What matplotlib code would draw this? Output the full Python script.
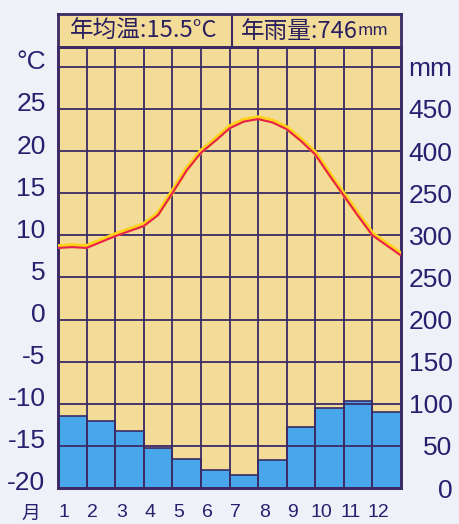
import numpy as np
import matplotlib
matplotlib.use('Agg')
import matplotlib.pyplot as plt
from matplotlib.transforms import ScaledTranslation

# monthly data
months = ['1', '2', '3', '4', '5', '6', '7', '8', '9', '10', '11', '12']
precip = [86, 80, 68, 48, 35, 21, 15, 33, 73, 95, 103, 90]          # mm
temp_mid = [8.6, 9.2, 10.5, 12.4, 17.7, 21.2, 23.5, 23.4, 21.2, 17.1, 12.3, 8.8]
# temperature where the curve crosses the month borders
temp_edge = [8.5, 8.5, 9.9, 11.1, 15.0, 19.8, 22.7, 23.8, 22.6, 19.6, 14.7, 10.0, 7.6]

temp_ticks = [-20, -15, -10, -5, 0, 5, 10, 15, 20, 25, 30]
temp_labels = ['-20', '-15', '-10', '-5', '0', '5', '10', '15', '20', '25', '\u00b0C']
rain_ticks = [0, 50, 100, 150, 200, 250, 300, 350, 400, 450, 500]
rain_labels = ['0', '50', '100', '150', '200', '250', '300', '250', '400', '450', 'mm']

title_left = '年均温:15.5°C'
title_right = '年雨量:746'

BG = '#eef1f8'
TAN = '#f3dc98'
BLUE = '#48a6ea'
GRID = '#3b2a66'
INK = '#26206e'
CJK = ['Noto Sans CJK SC', 'DejaVu Sans']
LAT = ['Liberation Sans', 'DejaVu Sans']

W, H = 459, 524
fig = plt.figure(figsize=(W / 100, H / 100), dpi=100, facecolor=BG)

x0, x1, ytop, ybot, yhead = 58, 401, 47, 488, 14
rect = [x0 / W, (H - ybot) / H, (x1 - x0) / W, (ybot - ytop) / H]

# temperature axis (left) and rain axis (right)
ax = fig.add_axes(rect)
ax2 = ax.twinx()
tmin = -20
tmax = 30 + 20 / 8.48
ax.set_ylim(tmin, tmax)
ax2.set_ylim((tmin + 20) * 10, (tmax + 20) * 10)
ax.set_xlim(0, 12)

# rain axis sits underneath and carries the background and bars
ax.set_zorder(ax2.get_zorder() + 1)
ax.patch.set_visible(False)
ax2.patch.set_visible(True)
ax2.patch.set_facecolor(TAN)

xs = np.arange(12) + 0.5
ax2.bar(xs, precip, width=1.0, color=BLUE, edgecolor=GRID, linewidth=1.2, zorder=1)
ax2.set_yticks(rain_ticks)

# grid on the upper axes so it crosses the bars
ax.set_xticks(np.arange(13), minor=True)
ax.set_yticks(temp_ticks)
ax.grid(axis='x', which='minor', color=GRID, linewidth=1.3, zorder=1)
ax.grid(axis='y', which='major', color=GRID, linewidth=1.3, zorder=1)

# temperature curve
xt = []
yt = []
for i in range(12):
    xt += [i, i + 0.5]
    yt += [temp_edge[i], temp_mid[i]]
xt.append(12)
yt.append(temp_edge[12])
glow = ax.transData + ScaledTranslation(0, 1.5 / 100, fig.dpi_scale_trans)
ax.plot(xt, yt, color='#ffd21a', linewidth=3.4, transform=glow,
        solid_capstyle='butt', solid_joinstyle='round', zorder=4)
ax.plot(xt, yt, color='#e8204e', linewidth=1.5, solid_joinstyle='round', zorder=5)

# ticks and labels
ax.set_yticklabels(temp_labels, fontsize=19, color=INK, family=LAT)
ax.tick_params(axis='y', length=0, pad=9)
for lbl in ax.get_yticklabels():
    lbl.set_transform(lbl.get_transform()
                      + ScaledTranslation(0, 7 / 100, fig.dpi_scale_trans))

ax2.set_yticklabels(rain_labels, fontsize=19, color=INK, family=LAT, ha='right')
ax2.tick_params(axis='y', length=0, pad=37)

ax.set_xticks(xs)
ax.set_xticklabels(months, fontsize=14, color=INK, family=LAT)
ax.tick_params(axis='x', which='both', length=0, pad=11.5)
for lbl in ax.get_xticklabels():
    lbl.set_transform(lbl.get_transform()
                      + ScaledTranslation(-8 / 100, 0, fig.dpi_scale_trans))
ax2.tick_params(axis='x', which='both', length=0)
ax.text(-0.94, 0, '月', fontsize=13.5, color=INK, family=CJK,
        ha='center', va='baseline',
        transform=ax.get_xaxis_transform()
        + ScaledTranslation(0, -0.305, fig.dpi_scale_trans))

for a in (ax, ax2):
    for s in a.spines.values():
        s.set_color(GRID)
        s.set_linewidth(2)

# header row with the yearly figures
hx = fig.add_axes([x0 / W, (H - ytop) / H, (x1 - x0) / W, (ytop - yhead) / H])
hx.set_facecolor(TAN)
hx.set_xlim(0, 12)
hx.set_ylim(0, 1)
hx.set_xticks([])
hx.set_yticks([])
for s in hx.spines.values():
    s.set_color(GRID)
    s.set_linewidth(2)
hx.axvline(6.09, color=GRID, linewidth=1.5)
hx.text(3.0, 0.47, title_left, fontsize=17, color='#2a1f5e', family=CJK,
        ha='center', va='center')
t = hx.text(8.45, 0.47, title_right, fontsize=17, color='#2a1f5e', family=CJK,
            ha='center', va='center')
hx.annotate('mm', xy=(1, 0.18), xycoords=t, fontsize=12, color='#2a1f5e',
            family=CJK, ha='left', va='bottom')

fig.savefig('out.png', dpi=100, facecolor=BG)
